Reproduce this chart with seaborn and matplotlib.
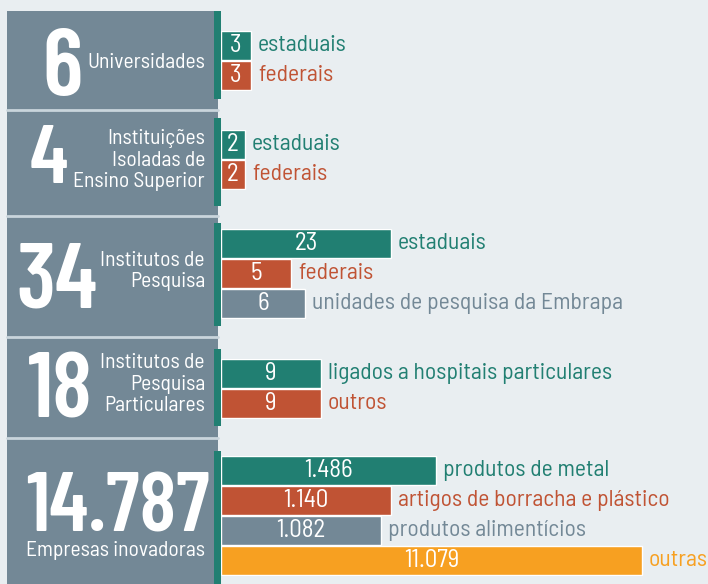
import matplotlib
matplotlib.use("Agg")
import matplotlib.pyplot as plt
import seaborn as sns
import pandas as pd
from matplotlib.patches import Rectangle

# totais e nomes de cada grupo (painel da esquerda)
totais = ["6", "4", "34", "18", "14.787"]
nomes_grupo = ["Universidades",
               "Instituições\nIsoladas de\nEnsino Superior",
               "Institutos de\nPesquisa",
               "Institutos de\nPesquisa\nParticulares",
               "Empresas inovadoras"]

# categorias de cada grupo
cat_univ = ["estaduais", "federais"]
cat_isol = ["estaduais", "federais"]
cat_inst = ["estaduais", "federais", "unidades de pesquisa da Embrapa"]
cat_part = ["ligados a hospitais particulares", "outros"]
cat_emp = ["produtos de metal", "artigos de borracha e plástico",
           "produtos alimentícios", "outras"]

# valores escritos nas barras
val_univ = ["3", "3"]
val_isol = ["2", "2"]
val_inst = ["23", "5", "6"]
val_part = ["9", "9"]
val_emp = ["1.486", "1.140", "1.082", "11.079"]

# comprimento desenhado das barras (lido da figura, não proporcional aos valores)
comp_univ = [30, 30]
comp_isol = [24, 24]
comp_inst = [170, 70, 84]
comp_part = [100, 100]
comp_emp = [215, 170, 160, 421]

verde = "#217f72"
vermelho = "#c05334"
cinza = "#738896"
laranja = "#f7a021"
fundo = "#e9eef1"

cores_univ = [verde, vermelho]
cores_isol = [verde, vermelho]
cores_inst = [verde, vermelho, cinza]
cores_part = [verde, vermelho]
cores_emp = [verde, vermelho, cinza, laranja]

sns.set_style("white")
plt.rcParams["font.family"] = ["Barlow Semi Condensed", "DejaVu Sans"]
fonte_grande = ["Barlow Condensed", "DejaVu Sans"]

W, H = 708, 584
fig = plt.figure(figsize=(W / 100, H / 100), dpi=100, facecolor=fundo)

# eixo de fundo em pixels para o painel da esquerda
bg = fig.add_axes([0, 0, 1, 1])
bg.set_xlim(0, W)
bg.set_ylim(H, 0)
bg.axis("off")
bg.add_patch(Rectangle((7, 11), 211, H - 11, color=cinza, lw=0))
for y in [109.5, 215.5, 336.5, 437.5]:
    bg.plot([7, 218], [y, y], color="#c9d5dc", lw=2)

topos = [30.5, 129.5, 228.5, 358.5, 455.5]
faixas = [(11, 99), (118, 206), (223, 326), (349, 426), (451, 584)]
grupos = [
    (cat_univ, val_univ, comp_univ, cores_univ),
    (cat_isol, val_isol, comp_isol, cores_isol),
    (cat_inst, val_inst, comp_inst, cores_inst),
    (cat_part, val_part, comp_part, cores_part),
    (cat_emp, val_emp, comp_emp, cores_emp),
]

for (cats, vals, comps, cores), topo, (y0, y1) in zip(grupos, topos, faixas):
    bg.add_patch(Rectangle((214, y0), 7, y1 - y0, color=verde, lw=0))
    n = len(cats)
    alt = n * 30
    ax = fig.add_axes([221 / W, 1 - (topo + alt) / H, (W - 221) / W, alt / H])
    df = pd.DataFrame({"cat": cats, "comp": comps})
    sns.barplot(data=df, x="comp", y="cat", hue="cat", palette=cores,
                orient="h", width=0.96, legend=False, ax=ax, saturation=1)
    ax.set_xlim(0, W - 221)
    ax.axis("off")
    for cont, v, c, cor in zip(ax.containers, vals, cats, cores):
        ax.bar_label(cont, labels=[v], label_type="center", color="white",
                     fontsize=18)
        ax.bar_label(cont, labels=[c], padding=5, color=cor, fontsize=17)

# números grandes e nomes dos grupos
pos_num = [(63, 95, 68), (49, 183, 60), (57, 308, 66), (60, 417, 66), (118, 532, 61)]
for t, (x, y, fs) in zip(totais, pos_num):
    bg.text(x, y, t, color="white", fontsize=fs, fontweight=600,
            family=fonte_grande, ha="center", va="baseline")
pos_nome = [(205, 62), (205, 160), (205, 271), (205, 384)]
for nome, (x, y) in zip(nomes_grupo[:4], pos_nome):
    bg.text(x, y, nome, color="white", fontsize=15.5, ha="right", va="center",
            multialignment="right", linespacing=1.15)
bg.text(116, 551, nomes_grupo[4], color="white", fontsize=15.5, ha="center",
        va="center")

fig.savefig("out.png", dpi=100, facecolor=fundo)
